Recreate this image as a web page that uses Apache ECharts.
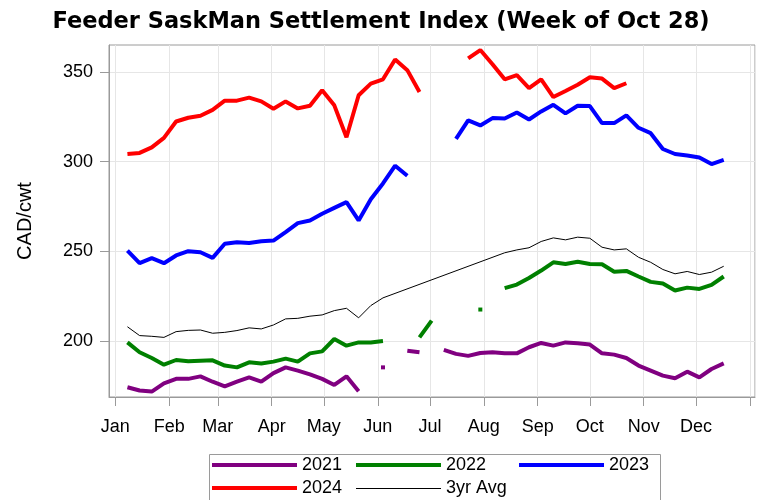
<!DOCTYPE html>
<html>
<head>
<meta charset="utf-8">
<script src="https://cdn.jsdelivr.net/npm/echarts@6/dist/echarts.min.js"></script>
<style>html,body{margin:0;padding:0;background:#fff}#c{width:762px;height:500px}</style>
</head>
<body>
<div id="c"></div>
<script>
// Weekly observations (week index 0..49, starting the second week of January)
const weekStart = [2021, 0, 8]; // first plotted week (axis uses a common non-leap reference year)
const monthLabels = ['Jan','Feb','Mar','Apr','May','Jun','Jul','Aug','Sep','Oct','Nov','Dec'];
const yTicks = [200, 250, 300, 350];

const s2021 = [174.4,172.6,172.0,176.6,179.1,179.1,180.5,177.5,174.9,177.5,179.9,177.5,182.3,185.5,183.7,181.6,179.1,175.7,180.5,172.2,
  null,185.5,null,194.8,193.9,null,195.2,193.0,191.9,193.5,193.9,193.3,193.3,196.7,199.1,197.6,199.4,198.9,198.2,193.3,
  192.6,190.7,186.5,183.7,180.9,179.4,183.1,179.9,184.6,187.7];
const s2022 = [199.4,193.9,190.7,187.0,189.6,188.9,189.2,189.4,186.5,185.5,188.3,187.7,188.7,190.4,188.7,193.3,194.4,201.3,197.6,199.4,
  199.4,200.2,null,null,202.2,211.5,null,null,null,217.7,null,229.6,231.6,235.3,239.4,244.0,243.1,244.3,243.1,242.9,
  238.7,239.2,236.1,233.1,232.2,228.3,229.9,229.2,231.4,236.1];
const s2023 = [250.5,243.5,246.3,243.5,247.8,250.2,249.6,246.5,254.3,255.2,254.8,255.7,256.1,260.8,265.8,267.3,271.0,274.3,277.5,267.3,
  279.1,287.9,297.8,292.2,null,null,null,312.7,323.0,320.2,324.3,324.1,327.4,323.5,328.0,331.7,326.9,331.2,331.0,321.5,
  321.5,325.8,318.9,315.9,307.1,304.3,303.5,302.4,298.7,301.0];
const s2024 = [304.3,304.9,308.0,313.3,322.4,324.5,325.6,328.9,334.0,334.0,335.7,333.6,329.5,333.6,329.7,331.2,339.8,331.4,313.6,337.0,
  343.5,345.9,356.9,351.0,338.8,null,null,null,357.5,362.2,354.3,345.9,348.2,341.0,345.9,336.0,339.4,342.9,347.0,346.3,
  341.0,343.7];
const sAvg = [208.1,203.2,202.8,202.2,205.4,206.1,206.3,204.5,205.0,206.0,207.5,206.9,209.1,212.5,212.8,214.0,214.7,217.1,218.4,213.1,
  219.9,224.2,null,null,null,null,null,null,null,null,null,249.3,250.9,252.1,255.6,257.6,256.5,258.0,257.4,252.4,
  250.9,251.5,246.8,244.0,240.0,237.6,238.9,237.2,238.5,241.8];

const DAY = 86400000;
const t0 = Date.UTC(weekStart[0], weekStart[1], weekStart[2]);
const yearStart = Date.UTC(2021, 0, 1);

function toData(arr) {
  return arr.map((v, i) => {
    const x = t0 + i * 7 * DAY;
    if (v == null) return [x, null];
    const prevNull = i === 0 ? true : arr[i - 1] == null;
    const nextNull = i === arr.length - 1 ? true : arr[i + 1] == null;
    if (prevNull && nextNull) return { value: [x, v], symbol: 'rect', symbolSize: 4 };
    return [x, v];
  });
}

function mk(name, arr, color, width, connect) {
  return {
    name, type: 'line', data: toData(arr), symbol: 'none', showSymbol: true,
    connectNulls: !!connect, animation: false,
    lineStyle: { color, width }, itemStyle: { color },
    emphasis: { disabled: true }
  };
}

const font = 'Liberation Sans, Arial, sans-serif';
const chart = echarts.init(document.getElementById('c'), null, { renderer: 'canvas' });
function lg(name, left, top, h, color) {
  return {
    orient: 'horizontal', padding: 0, itemWidth: 85, itemHeight: h, icon: 'rect',
    textStyle: { fontFamily: font, fontSize: 18, color: '#000', lineHeight: 20 },
    left, top, selectedMode: false,
    data: [{ name, icon: 'rect', itemStyle: { color, borderWidth: 0 } }]
  };
}
chart.setOption({
  useUTC: true,
  animation: false,
  title: {
    text: 'Feeder SaskMan Settlement Index (Week of Oct 28)',
    left: 'center', top: 6,
    textStyle: { fontFamily: 'DejaVu Sans, sans-serif', fontSize: 22.5, fontWeight: 'bold', color: '#000' }
  },
  grid: { left: 109, right: 7, top: 45, bottom: 103, show: true, borderColor: '#9a9a9a', borderWidth: 1 },
  xAxis: {
    type: 'time',
    min: yearStart - 3.6 * DAY, max: yearStart + 368 * DAY,
    splitNumber: 12, minInterval: 28 * DAY, maxInterval: 31 * DAY,
    axisLine: { show: true, lineStyle: { color: '#9a9a9a' } },
    axisTick: { show: true, length: 9, lineStyle: { color: '#9a9a9a' } },
    axisLabel: {
      fontFamily: font, fontSize: 18, color: '#000', margin: 21,
      formatter: (v) => { const d = new Date(v); return d.getUTCFullYear() === 2021 ? monthLabels[d.getUTCMonth()] : ''; }
    },
    splitLine: { show: true, lineStyle: { color: '#e6e6e6' } }
  },
  yAxis: {
    type: 'value', min: 169, max: 365, splitNumber: 4,
    name: 'CAD/cwt', nameLocation: 'middle', nameGap: 74, nameRotate: 90,
    nameTextStyle: { fontFamily: font, fontSize: 20, color: '#000' },
    axisLine: { show: true, lineStyle: { color: '#9a9a9a' } },
    axisTick: { show: true, length: 9, lineStyle: { color: '#9a9a9a' }, customValues: yTicks },
    axisLabel: { fontFamily: font, fontSize: 18, color: '#000', margin: 16, customValues: yTicks },
    splitLine: { show: true, lineStyle: { color: '#e6e6e6' } }
  },
  legend: [
    lg('2021', 212, 455, 4, '#800080'),
    lg('2024', 212, 478, 4, '#ff0000'),
    lg('2022', 356, 455, 4, '#008000'),
    lg('3yr Avg', 356, 478.5, 1, '#000000'),
    lg('2023', 519, 455, 4, '#0000ff')
  ],
  graphic: [{
    type: 'rect', left: 207, top: 452, shape: { width: 451, height: 46 },
    style: { fill: 'none', stroke: '#9a9a9a', lineWidth: 1 }, silent: true
  }],
  series: [
    mk('2021', s2021, '#800080', 4),
    mk('2022', s2022, '#008000', 4),
    mk('2023', s2023, '#0000ff', 4),
    mk('2024', s2024, '#ff0000', 4),
    mk('3yr Avg', sAvg, '#000000', 1, true)
  ]
});
</script>
</body>
</html>
